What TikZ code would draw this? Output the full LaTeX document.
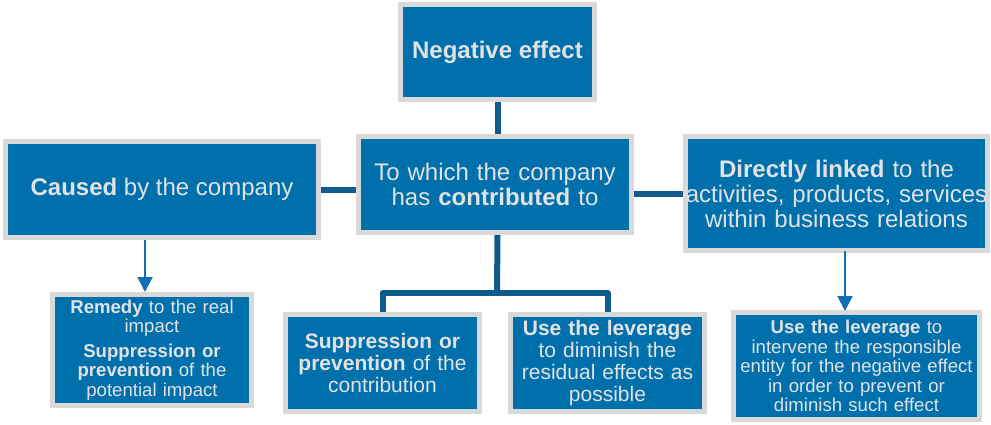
\documentclass[tikz,border=0pt]{standalone}
\usepackage{fontspec}
\setmainfont{Liberation Sans}
\usetikzlibrary{arrows.meta}
\definecolor{boxblue}{RGB}{0,112,173}
\definecolor{boxrim}{RGB}{217,217,217}
\definecolor{boxtext}{RGB}{226,226,226}
\definecolor{linkblue}{RGB}{16,90,140}
\definecolor{arrowblue}{RGB}{16,112,178}
\tikzset{
  effbox/.style={draw=boxrim,line width=5pt,fill=boxblue,text=boxtext,inner sep=0pt,align=center},
  largetext/.style={font=\fontsize{24}{25}\selectfont},
  midtext/.style={font=\fontsize{21}{22}\selectfont},
  smalltext/.style={font=\fontsize{18.6}{19.6}\selectfont},
  link/.style={draw=linkblue,line width=6pt},
  downarrow/.style={draw=arrowblue,line width=2pt,-{Triangle[width=15pt,length=15pt]}}
}
\begin{document}
\begin{tikzpicture}[x=1pt,y=-1pt]
  \useasboundingbox (0,0) rectangle (991,424);
  \node[effbox,largetext,minimum width=194pt,minimum height=95pt] (neg) at (497.5,52) {\textbf{Negative effect}};
  \node[effbox,largetext,minimum width=313pt,minimum height=96pt] (caused) at (162,189.5) {\textbf{Caused} by the company};
  \node[effbox,largetext,minimum width=273pt,minimum height=96pt,text width=273pt] (contrib) at (495,184.5) {To which the company\\has \textbf{contributed} to};
  \node[effbox,largetext,minimum width=302pt,minimum height=114pt,text width=302pt] (linked) at (836.5,193.5) {\textbf{Directly linked} to the\\activities, products, services\\within business relations};
  \node[effbox,smalltext,minimum width=199pt,minimum height=111pt,text width=199pt] (remedy) at (152,350) {\textbf{Remedy} to the real\\impact\\[5pt]\textbf{Suppression or}\\\textbf{prevention} of the\\potential impact};
  \node[effbox,midtext,minimum width=194pt,minimum height=97pt,text width=194pt] (suppress) at (382.5,363) {\textbf{Suppression or}\\\textbf{prevention} of the\\contribution};
  \node[effbox,midtext,minimum width=194pt,minimum height=97pt,text width=194pt] (residual) at (607.5,363) {\textbf{Use the leverage}\\to diminish the\\residual effects as\\possible};
  \node[effbox,smalltext,minimum width=246pt,minimum height=107pt,text width=246pt] (intervene) at (856.5,366) {\textbf{Use the leverage} to\\intervene the responsible\\entity for the negative effect\\in order to prevent or\\diminish such effect};
  \coordinate (bus) at (497,293);
  \draw[link] (neg.south) -- (neg.south |- contrib.north);
  \draw[link] (caused.east) -- (caused.east -| contrib.west);
  \draw[link] (contrib.east |- linked) -- (linked.west);
  \draw[link] (neg.south |- contrib.south) -- (bus);
  \draw[link,line join=round] (suppress.north) |- (bus) -| (residual.north);
  \draw[downarrow] ([xshift=-7]remedy.north |- caused.south) -- ([xshift=-7]remedy.north);
  \draw[downarrow] ([xshift=-11.5,yshift=2]intervene.north |- linked.south) -- ([xshift=-11.5,yshift=-1]intervene.north);
\end{tikzpicture}
\end{document}
